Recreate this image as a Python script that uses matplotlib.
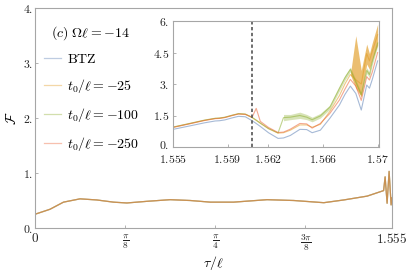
import numpy as np
import matplotlib
matplotlib.use('Agg')
import matplotlib.pyplot as plt
import matplotlib.transforms as mtransforms

plt.rcParams['mathtext.fontset'] = 'cm'
plt.rcParams['font.family'] = 'serif'
plt.rcParams['font.serif'] = ['DejaVu Serif']

# series names and colours (Mathematica defaults)
labels = [r'$\mathrm{BTZ}$', '$t_0/\\ell = -25$', '$t_0/\\ell = -100$', '$t_0/\\ell = -250$']
colors = ['#5E81B5', '#E19C24', '#8FB032', '#EB6235']

# main panel: all four curves overlap
tau_main = [0, 0.065, 0.124, 0.196, 0.269, 0.342, 0.40, 0.487, 0.589, 0.676, 0.764,
            0.865, 1.011, 1.127, 1.258, 1.345, 1.447, 1.5185, 1.525, 1.5337, 1.5424,
            1.5511, 1.555]
F_main = [0.25, 0.34, 0.47, 0.53, 0.51, 0.47, 0.455, 0.485, 0.515, 0.50, 0.47,
          0.47, 0.515, 0.50, 0.46, 0.51, 0.58, 0.68, 0.93, 0.45, 1.03,
          0.42, 0.55]

main_xticks = [0, np.pi / 8, np.pi / 4, 3 * np.pi / 8, 1.555]
main_xticklabels = ['$0$', r'$\frac{\pi}{8}$', r'$\frac{\pi}{4}$', r'$\frac{3\pi}{8}$', '$1.555$']
main_yticks = [0, 1, 2, 3, 4]
main_yticklabels = ['$0.$', '$1.$', '$2.$', '$3.$', '$4.$']

# inset: zoom on the end of the interval
tau_in = [1.5550, 1.5562, 1.5573, 1.5581, 1.5584, 1.5588, 1.5593, 1.5598, 1.5603, 1.5608,
          1.5611, 1.5614, 1.5620, 1.5627, 1.5631, 1.5636, 1.5643, 1.5648, 1.5652, 1.5658,
          1.5665, 1.5672, 1.5676, 1.5680, 1.5684, 1.5688, 1.5692, 1.5694, 1.5696, 1.5700]
F_btz = [0.84, 1.00, 1.15, 1.24, 1.25, 1.29, 1.38, 1.46, 1.44, 1.25,
         1.12, 0.98, 0.68, 0.41, 0.43, 0.55, 0.84, 0.83, 0.68, 0.80,
         1.37, 2.00, 2.50, 2.90, 2.55, 1.76, 2.95, 2.80, 3.20, 4.10]
F_25 = [0.94, 1.11, 1.27, 1.36, 1.37, 1.41, 1.50, 1.58, 1.56, 1.40,
        1.27, 1.13, 0.87, 0.66, 0.68, 0.80, 1.05, 1.05, 0.94, 1.08,
        1.70, 2.45, 3.00, 3.45, 3.20, 3.00, 4.45, 4.10, 4.55, 5.35]
F_100 = [0.95, 1.12, 1.28, 1.37, 1.38, 1.42, 1.51, 1.59, 1.57, 1.41,
         1.28, 1.14, 0.88, 0.67, 1.40, 1.42, 1.50, 1.42, 1.30, 1.48,
         1.90, 2.80, 3.30, 3.70, 3.10, 2.50, 3.65, 3.45, 4.05, 4.95]
F_250 = [0.93, 1.10, 1.26, 1.35, 1.36, 1.40, 1.49, 1.57, 1.55, 1.42,
         1.84, 1.22, 0.93, 0.69, 0.71, 0.85, 1.12, 1.10, 0.90, 1.12,
         1.60, 2.24, 2.75, 3.22, 2.90, 2.22, 3.35, 3.19, 3.55, 4.50]

# noisy parts drawn as bands (from index 14 for t0=-100, from index 23 for t0=-25)
F_100_lo = [1.25, 1.30, 1.36, 1.30, 1.20, 1.38, 1.80, 2.68, 3.18, 3.58, 2.98, 2.38, 3.50, 3.32, 3.90, 4.80]
F_100_hi = [1.55, 1.55, 1.66, 1.55, 1.42, 1.60, 2.00, 2.90, 3.40, 3.80, 3.22, 2.60, 3.78, 3.56, 4.18, 5.05]
F_25_lo = [3.45, 2.80, 2.40, 3.95, 3.70, 4.15, 4.85]
F_25_hi = [3.45, 5.30, 3.65, 4.90, 4.45, 4.95, 5.85]

tau_dash = 1.5608

in_xticks = [1.555, 1.559, 1.562, 1.566, 1.57]
in_xticklabels = ['$1.555$', '$1.559$', '$1.562$', '$1.566$', '$1.57$']
in_yticks = [0, 1.5, 3, 4.5, 6]
in_yticklabels = ['$0.$', '$1.5$', '$3.$', '$4.5$', '$6.$']

W, H = 407, 271
fig = plt.figure(figsize=(W / 100, H / 100), dpi=100)

def px_box(x0, y0, x1, y1):
    return [x0 / W, 1 - y1 / H, (x1 - x0) / W, (y1 - y0) / H]

def style(ax):
    for s in ax.spines.values():
        s.set_color('#A6A6A6')
        s.set_linewidth(0.8)
    ax.tick_params(direction='in', length=2.5, width=0.6, color='#A6A6A6',
                   labelsize=8.5, pad=1.5, labelcolor='#222222')

ax = fig.add_axes(px_box(35, 8, 392, 228))
for c, lab in zip(colors, labels):
    ax.plot(tau_main, F_main, color=c, lw=0.9, alpha=0.42, label=lab)
ax.set_xlim(0, 1.555)
ax.set_ylim(0, 4)
ax.set_xticks(main_xticks)
ax.set_xticklabels(main_xticklabels)
ax.set_yticks(main_yticks)
ax.set_yticklabels(main_yticklabels)
style(ax)
ax.tick_params(axis='x', labelsize=9.5, pad=3)
ax.set_xlabel(r'$\tau/\ell$', fontsize=10, labelpad=1)
ax.set_ylabel(r'$\mathcal{F}$', fontsize=10, labelpad=3)

ax.text(51 / W, 1 - 33 / H, r'$(c)\ \Omega\ell = -14$', transform=fig.transFigure,
        fontsize=10, va='center', ha='left')
leg = ax.legend(loc='upper left', bbox_to_anchor=(44 / W, 1 - 52 / H),
                bbox_transform=fig.transFigure, frameon=False, fontsize=10,
                handlelength=1.2, handletextpad=0.45, labelspacing=0.78,
                borderpad=0, borderaxespad=0)
for line in leg.get_lines():
    line.set_alpha(0.4)

ins = fig.add_axes(px_box(173, 21, 379, 147))
for c, lab, F in zip(colors, labels, [F_btz, F_25, F_100, F_250]):
    ins.plot(tau_in, F, color=c, lw=0.8, alpha=0.55)
ins.fill_between(tau_in[14:], F_100_lo, F_100_hi, color=colors[2], alpha=0.35, lw=0)
ins.fill_between(tau_in[23:], F_25_lo, F_25_hi, color=colors[1], alpha=0.65, lw=0)
ins.axvline(tau_dash, color='#555555', lw=1.2, ls=(0, (2, 1.5)))
ins.set_xlim(1.555, 1.5701)
ins.set_ylim(0, 6)
ins.set_xticks(in_xticks)
ins.set_xticklabels(in_xticklabels)
ins.set_yticks(in_yticks)
ins.set_yticklabels(in_yticklabels)
style(ins)
ins.tick_params(axis='x', pad=4.5)
ins.tick_params(axis='y', pad=2.5)

# nudge the inset's "0." up a little so it clears "1.555"
zero_lab = ins.get_yticklabels()[0]
zero_lab.set_transform(zero_lab.get_transform() +
                       mtransforms.ScaledTranslation(0, 2 / 72, fig.dpi_scale_trans))

fig.savefig('out.png', dpi=100)
